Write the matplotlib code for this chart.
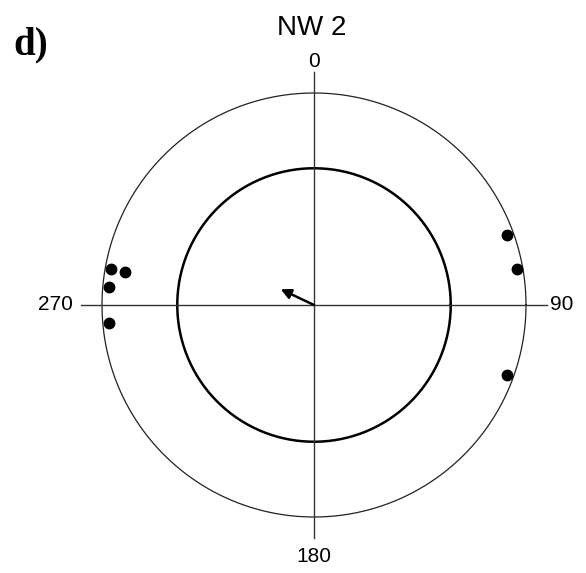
import numpy as np
import matplotlib.pyplot as plt

# bearings in degrees (clockwise from north)
angles = [70, 80, 110, 265, 275, 280, 280]
inner_r = 0.645
title = "NW 2"
panel = "d)"
dir_labels = ["0", "90", "180", "270"]

W, H = 586, 573
cx, cy, R = 314, 305, 212  # centre and radius in pixels

fig = plt.figure(figsize=(W / 100, H / 100), dpi=100)
ax = fig.add_axes([0, 0, 1, 1])
ax.set_xlim(-cx / R, (W - cx) / R)
ax.set_ylim(-(H - cy) / R, cy / R)
ax.set_aspect("equal")
ax.axis("off")

t = np.linspace(0, 2 * np.pi, 400)
ax.plot(np.cos(t), np.sin(t), color="#222222", lw=0.9)
ax.plot(inner_r * np.cos(t), inner_r * np.sin(t), color="black", lw=1.8)
ax.plot([-1.1, 1.1], [0, 0], color="#333333", lw=1.0)
ax.plot([0, 0], [-1.1, 1.1], color="#333333", lw=1.0)

# stack repeated bearings inwards
counts = {}
for a in angles:
    k = counts.get(a, 0)
    counts[a] = k + 1
    r = 0.97 - 0.065 * k
    th = np.deg2rad(a)
    ax.plot(r * np.sin(th), r * np.cos(th), "o", color="black", ms=7.5)

# mean resultant vector
th = np.deg2rad(angles)
mx, my = np.mean(np.sin(th)), np.mean(np.cos(th))
ax.annotate("", xy=(mx, my), xytext=(0, 0),
            arrowprops=dict(arrowstyle="-|>,head_length=0.6,head_width=0.3",
                            color="black", lw=1.8, shrinkA=0, shrinkB=0))

fs = 15
ax.text(0, 1.105, dir_labels[0], ha="center", va="bottom", fontsize=fs, family="Liberation Sans")
ax.text(1.112, 0, dir_labels[1], ha="left", va="center", fontsize=fs, family="Liberation Sans")
ax.text(0, -1.14, dir_labels[2], ha="center", va="top", fontsize=fs, family="Liberation Sans")
ax.text(-1.137, 0, dir_labels[3], ha="right", va="center", fontsize=fs, family="Liberation Sans")

fig.text(312 / W, 1 - 35 / H, title, ha="center", va="baseline", fontsize=20, family="Liberation Sans")
fig.text(13 / W, 1 - 54 / H, panel, ha="left", va="baseline", fontsize=28,
         family="Liberation Serif", weight="bold")

fig.savefig("out.png", dpi=100)
